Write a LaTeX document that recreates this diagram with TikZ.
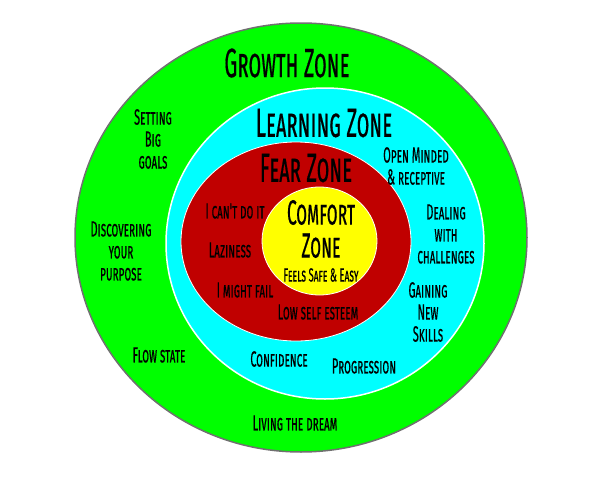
\documentclass[tikz,border=0pt]{standalone}
\usepackage{fontspec}
\newfontfamily\zonefont[Letters=SmallCaps,FakeStretch=0.5,FakeBold=0.4]{Fira Sans}
\definecolor{growthgreen}{HTML}{00FF00}
\definecolor{learncyan}{HTML}{00FFFF}
\definecolor{fearred}{HTML}{C00000}
\definecolor{comfortyellow}{HTML}{FFFF00}
\definecolor{rimgray}{HTML}{707070}

\begin{document}
\begin{tikzpicture}[
    x=1pt, y=-1pt,
    title/.style={font=\zonefont\fontsize{41}{41}\selectfont, inner sep=0pt},
    lbl/.style={font=\zonefont\fontsize{22}{22}\selectfont, align=center, inner sep=0pt},
    small/.style={font=\zonefont\fontsize{19}{19}\selectfont, inner sep=0pt}
]
    \useasboundingbox (0,0) rectangle (600,482);

    % zones, outside in
    \fill[growthgreen, draw=rimgray, line width=1.5pt] (301,237.5) ellipse [x radius=226pt, y radius=214.5pt];
    \fill[learncyan, draw=white, line width=1.5pt] (325,243.5) ellipse [x radius=159pt, y radius=155.5pt];
    \fill[fearred, draw=white, line width=0.8pt] (296,241.5) ellipse [x radius=115pt, y radius=99.5pt];
    \fill[comfortyellow, draw=white, line width=0.8pt] (319.5,241) ellipse [x radius=57.5pt, y radius=54pt];

    % zone titles
    \node[title] (growth) at (287,63) {Growth Zone};
    \node[title] (learning) at (324,123) {Learning Zone};
    \node[title] (fear) at (306,168) {Fear Zone};
    \node[title, align=center, font=\zonefont\fontsize{35}{33}\selectfont] (comfort) at (321,229) {Comfort\\Zone};
    \node[small] (safe) at (321,275) {Feels Safe \& Easy};

    % fear zone
    \node[lbl] (cant) at (235,211) {I can't do it};
    \node[lbl] (lazy) at (230,250) {Laziness};
    \node[lbl] (fail) at (245,290) {I might fail};
    \node[lbl] (esteem) at (318,312) {Low self esteem};

    % learning zone
    \node[lbl] (open) at (416,166) {Open Minded\\\& receptive};
    \node[lbl] (dealing) at (446,234) {Dealing\\with\\challenges};
    \node[lbl] (gaining) at (428,312) {Gaining\\New\\Skills};
    \node[lbl] (confidence) at (279,359) {Confidence};
    \node[lbl] (progress) at (364,366) {Progression};

    % growth zone
    \node[lbl] (goals) at (153,139) {Setting\\Big\\goals};
    \node[lbl] (purpose) at (121,251) {Discovering\\your\\purpose};
    \node[lbl] (flow) at (159,355) {Flow state};
    \node[lbl] (dream) at (295,423) {Living the dream};
\end{tikzpicture}
\end{document}
